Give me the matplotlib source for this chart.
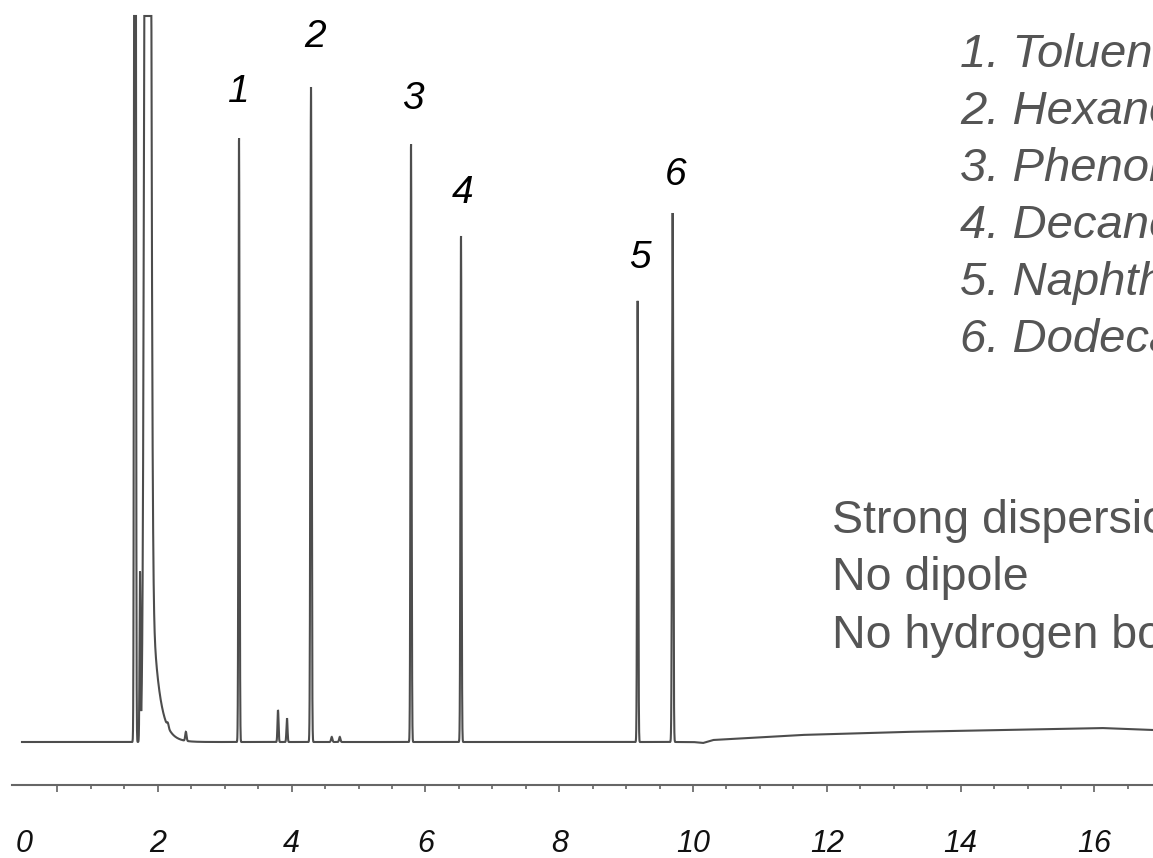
import numpy as np
import matplotlib
matplotlib.use("Agg")
import matplotlib.pyplot as plt

W, H = 1153, 858

# --- data (retention time in min, height in detector units) ---
peak_numbers = ["1", "2", "3", "4", "5", "6"]
peak_times = [3.214, 4.290, 5.785, 6.532, 9.173, 9.696]
peak_heights = [605, 655, 599, 507, 442, 529]
peak_sigmas = [0.008, 0.009, 0.008, 0.008, 0.008, 0.009]

# solvent and minor peaks
minor_times = [1.659, 1.734, 1.848, 2.15, 2.42, 3.797, 3.931, 4.60, 4.72]
minor_heights = [3000, 167, 3000, 4, 9, 32, 24, 5, 5]
minor_sigmas = [0.009, 0.007, 0.031, 0.012, 0.01, 0.008, 0.008, 0.01, 0.01]

# solvent tailing
tail_start = 1.853
tail_height = 259
tail_tau = 0.105

# baseline drift anchor points
base_times = [-0.03, 10.0, 10.15, 10.3, 11.6, 13.1, 14.6, 16.1, 16.88]
base_levels = [0, 0, -1, 2, 7, 10, 12, 14, 12]

compounds = ["1. Toluene", "2. Hexanol", "3. Phenol", "4. Decane",
             "5. Naphthalene", "6. Dodecane"]
notes = ["Strong dispersion", "No dipole", "No hydrogen bonding"]

tick_major = [0, 0.5, 2, 4, 6, 8, 10, 12, 14, 16]
tick_major_labels = ["0", "", "2", "4", "6", "8", "10", "12", "14", "16"]
tick_minor = [1, 1.5, 2.5, 3, 3.5, 4.5, 5, 5.5, 6.5, 7, 7.5, 8.5, 9, 9.5,
              10.5, 11, 11.5, 12.5, 13, 13.5, 14.5, 15, 15.5, 16.5]

# --- build trace ---
t = np.arange(-0.03, 16.9, 0.0015)
y = np.interp(t, base_times, base_levels).astype(float)
for tt, hh, ss in zip(peak_times + minor_times, peak_heights + minor_heights,
                      peak_sigmas + minor_sigmas):
    y += hh * np.exp(-0.5 * ((t - tt) / ss) ** 2)
y += np.where(t >= tail_start, tail_height * np.exp(-(t - tail_start) / tail_tau), 0)

YMIN, YMAX = -43, 728
y = np.minimum(y, YMAX - 2)

fig = plt.figure(figsize=(W / 100, H / 100), dpi=100)
ax = fig.add_axes([12 / W, 73 / H, (W - 12) / W, 771 / H])
ax.plot(t, y, color="#4d4d4d", lw=1.5, solid_joinstyle="miter")
ax.set_xlim((12 - 24) / 66.9, (W - 24) / 66.9)
ax.set_ylim(YMIN, YMAX)

for s in ["left", "right", "top"]:
    ax.spines[s].set_visible(False)
ax.spines["bottom"].set_color("#666666")
ax.spines["bottom"].set_linewidth(1.5)
ax.set_yticks([])

ax.set_xticks(tick_major)
ax.set_xticklabels(tick_major_labels, fontfamily="Liberation Sans",
                   fontstyle="italic", fontsize=22, color="#111111")
ax.set_xticks(tick_minor, minor=True)
ax.tick_params(axis="x", which="major", direction="out", length=5, width=1.1,
               color="#555555", pad=27)
ax.tick_params(axis="x", which="minor", direction="out", length=3, width=1.1,
               color="#555555")
ax.xaxis.get_major_ticks()[0].tick1line.set_visible(False)

# peak number labels
label_dx = [0.0, 0.06, 0.03, 0.02, 0.03, 0.04]
label_gap = [45, 50, 44, 42, 42, 38]
for num, tt, hh, dx, gap in zip(peak_numbers, peak_times, peak_heights, label_dx, label_gap):
    ax.text(tt + dx, hh + gap, num, ha="center", va="center",
            fontfamily="Liberation Sans", fontstyle="italic", fontsize=28,
            color="black")

# compound list
for i, txt in enumerate(compounds):
    fig.text(960 / W, 1 - (67 + 57 * i) / H, txt, ha="left", va="baseline",
             fontfamily="Liberation Sans", fontstyle="italic", fontsize=34,
             color="#555555")

# interaction notes
for i, txt in enumerate(notes):
    fig.text(832 / W, 1 - (533 + 57.5 * i) / H, txt, ha="left", va="baseline",
             fontfamily="Liberation Sans", fontsize=33.5, color="#555555")

fig.savefig("out.png", dpi=100)
